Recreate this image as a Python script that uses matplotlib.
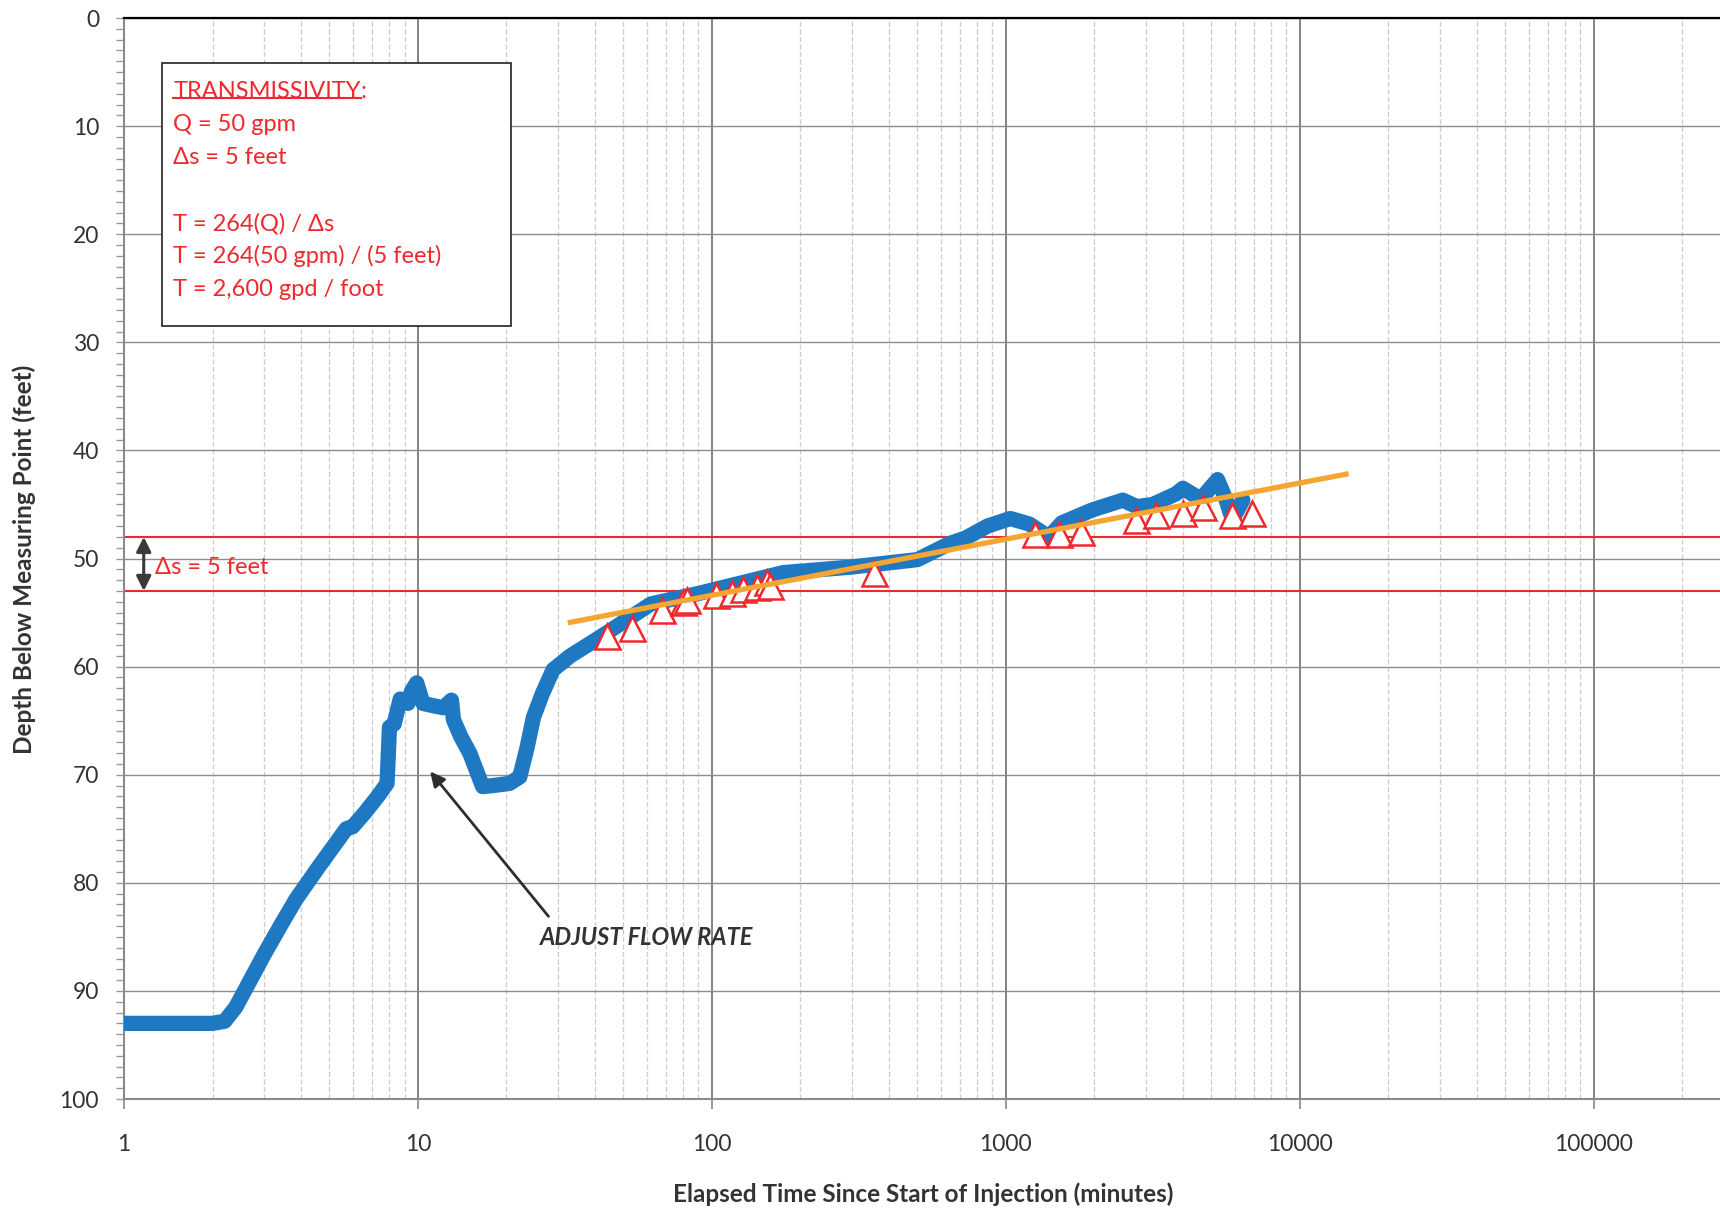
import numpy as np
import matplotlib
matplotlib.use('Agg')
import matplotlib.pyplot as plt
from matplotlib.ticker import FixedLocator, LogLocator, MultipleLocator, NullFormatter
from matplotlib.patches import Rectangle

plt.rcParams['font.family'] = ['Lato', 'DejaVu Sans']

# water level record (elapsed minutes, depth in feet)
time_min = [1, 1.5, 2.0, 2.2, 2.4, 3.0, 3.4, 3.85, 4.6, 5.2,
            5.7, 6.0, 6.6, 7.3, 7.85, 8.0, 8.3, 8.7, 9.25, 9.5,
            9.9, 10.4, 11.2, 12.2, 13.0, 13.2, 14.0, 15.0, 16.6, 18.0,
            20.5, 22.2, 23.5, 24.7, 26.5, 28.8, 33, 41.5, 62, 91,
            175, 295, 500, 645, 730, 865, 1035, 1200, 1400, 1550,
            1970, 2500, 2790, 3160, 3800, 4000, 4600, 5250, 5600, 5900,
            6400]
depth_ft = [93, 93, 93, 92.8, 91.5, 86.6, 84, 81.5, 78.5, 76.5,
            75, 74.8, 73.5, 72, 70.8, 65.6, 65.3, 63, 63.4, 62.3,
            61.5, 63.4, 63.6, 63.8, 63.1, 64.9, 66.5, 68, 71.1, 71.0,
            70.8, 70.2, 67.5, 64.7, 62.5, 60.3, 59, 57.3, 54.2, 53.2,
            51.3, 50.8, 50.1, 48.6, 48.1, 47, 46.3, 46.8, 48, 46.7,
            45.5, 44.6, 45.2, 45, 44, 43.5, 44.5, 42.7, 44.5, 46.4,
            44.6]

# picked points (open triangles)
pick_time = [43.8, 53.5, 67.5, 80, 82, 103, 117, 128, 142, 154, 158, 355,
             1260, 1520, 1800, 2770, 3250, 4000, 4700, 5900, 6900]
pick_depth = [57.2, 56.4, 54.8, 54.0, 53.8, 53.4, 53.2, 52.8, 52.6, 52.2, 52.5, 51.3,
              47.7, 47.7, 47.5, 46.4, 46.0, 45.8, 45.2, 46.0, 45.8]

# straight line fit
fit_time = [33, 14350]
fit_depth = [55.9, 42.2]

# delta-s construction lines
ds_upper = 48
ds_lower = 53

x_ticks = [1, 10, 100, 1000, 10000, 100000]
x_tick_labels = ['1', '10', '100', '1000', '10000', '100000']

box_lines = ['Q = 50 gpm', '\u0394s = 5 feet', '',
             'T = 264(Q) / \u0394s', 'T = 264(50 gpm) / (5 feet)', 'T = 2,600 gpd / foot']

red = '#f0282d'
dark = '#333333'
fs = 17

fig = plt.figure(figsize=(17.2, 12.1), dpi=100)
ax = fig.add_axes([0.0721, 0.0917, 0.928, 0.8934])

ax.set_xscale('log')
ax.set_xlim(1, 10 ** 5.43)
ax.set_ylim(100, 0)

ax.xaxis.set_major_locator(FixedLocator(x_ticks))
ax.set_xticklabels(x_tick_labels)
ax.xaxis.set_minor_locator(LogLocator(base=10, subs=np.arange(2, 10)))
ax.xaxis.set_minor_formatter(NullFormatter())
ax.yaxis.set_major_locator(MultipleLocator(10))
ax.yaxis.set_minor_locator(MultipleLocator(1))

ax.tick_params(axis='x', which='major', length=7, width=1.2, color='#888888',
               pad=18, labelsize=16.5, labelcolor=dark)
ax.tick_params(axis='x', which='minor', length=0)
ax.tick_params(axis='y', which='both', length=6, width=1.0, color='#999999',
               pad=12, labelsize=16.5, labelcolor=dark)

ax.grid(which='major', axis='y', color='#8c8c8c', lw=1.0)
ax.grid(which='major', axis='x', color='#7a7a7a', lw=1.3)
ax.grid(which='minor', axis='x', color='#cccccc', lw=0.9, ls=(0, (4, 2)))
ax.set_axisbelow(True)

ax.spines['right'].set_visible(False)
ax.spines['top'].set_color('black')
ax.spines['top'].set_linewidth(1.6)
for s in ['left', 'bottom']:
    ax.spines[s].set_color('#8a8a8a')
    ax.spines[s].set_linewidth(1.5)

# data
ax.plot(time_min, depth_ft, color='#1e78c2', lw=11, solid_capstyle='round',
        solid_joinstyle='round', zorder=3)
ax.plot(pick_time, pick_depth, ls='none', marker='^', ms=18, mfc='white',
        mec=red, mew=1.8, zorder=4)
ax.plot(fit_time, fit_depth, color='#f5a531', lw=3.8, zorder=5)

ax.axhline(ds_upper, color=red, lw=1.5, zorder=2)
ax.axhline(ds_lower, color=red, lw=1.5, zorder=2)
ax.annotate('', xy=(1.167, ds_upper), xytext=(1.167, ds_lower),
            arrowprops=dict(arrowstyle='<|-|>', color='#3a3a3a', lw=2.2,
                            mutation_scale=22, shrinkA=0, shrinkB=0), zorder=6)
ax.text(1.27, 50.8, '\u0394s = 5 feet', color=red, fontsize=fs, va='center', ha='left')

# transmissivity box
ax.add_patch(Rectangle((1.35, 4.16), 20.8 - 1.35, 28.5 - 4.16, fc='white',
                       ec='#222222', lw=1.2, zorder=7))
title_txt = ax.text(1.47, 6.8, 'TRANSMISSIVITY', color=red, fontsize=fs,
                    va='center', ha='left', zorder=8)
ax.annotate(':', xy=(1, 0), xycoords=title_txt, va='bottom', ha='left',
            color=red, fontsize=fs, zorder=8)
for i, line in enumerate(box_lines):
    ax.text(1.47, 9.85 + 3.05 * i, line, color=red, fontsize=fs,
            va='center', ha='left', zorder=8)

# flow-rate note
ax.annotate('', xy=(11.0, 69.7), xytext=(27.8, 83.1),
            arrowprops=dict(arrowstyle='-|>', color='#2e2e2e', lw=2.0,
                            mutation_scale=22, shrinkA=0, shrinkB=0))
ax.text(25.9, 85.1, 'ADJUST FLOW RATE', color=dark, fontsize=fs,
        fontweight='bold', fontstyle='italic', va='center', ha='left')

fig.text(0.537, 0.0132, 'Elapsed Time Since Start of Injection (minutes)',
         fontsize=17.5, fontweight='bold', color=dark, ha='center', va='center')
fig.text(0.014, 0.538, 'Depth Below Measuring Point (feet)', rotation=90,
         fontsize=17.5, fontweight='bold', color=dark, ha='center', va='center')

# underline the box title
fig.canvas.draw()
bb = title_txt.get_window_extent()
inv = ax.transAxes.inverted()
(x0, y0), (x1, _) = inv.transform([(bb.x0, bb.y0 + 4), (bb.x1, bb.y0)])
ax.plot([x0, x1], [y0, y0], color=red, lw=1.5, transform=ax.transAxes,
        clip_on=False, zorder=8)

fig.savefig('out.png', dpi=100)
